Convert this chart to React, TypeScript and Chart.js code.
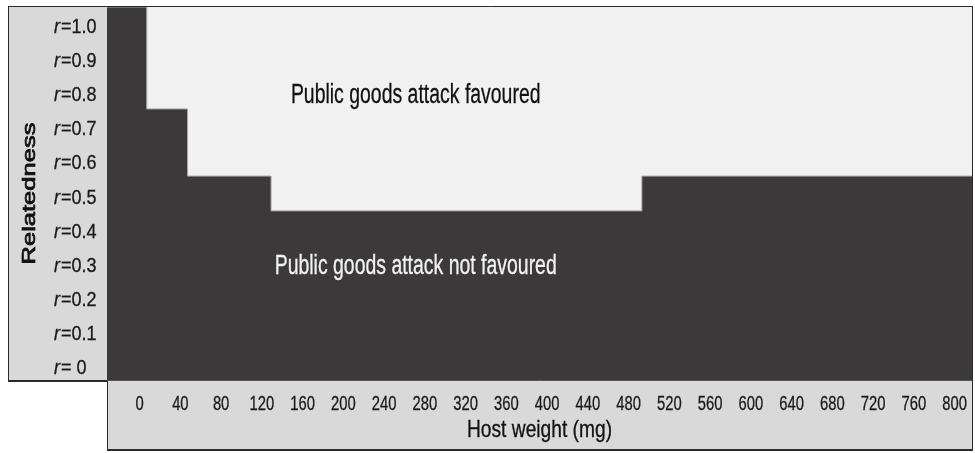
import React, { useEffect, useRef } from "react";
import { Chart, registerables } from "chart.js";

Chart.register(...registerables);

// ---- data ----
const hostWeightTicks = [0, 40, 80, 120, 160, 200, 240, 280, 320, 360, 400, 440, 480, 520, 560, 600, 640, 680, 720, 760, 800];
const relatednessTicks = [1.0, 0.9, 0.8, 0.7, 0.6, 0.5, 0.4, 0.3, 0.2, 0.1, 0];
const relatednessLabels = ["=1.0", "=0.9", "=0.8", "=0.7", "=0.6", "=0.5", "=0.4", "=0.3", "=0.2", "=0.1", "= 0"];
// threshold relatedness above which attack is favoured, as a step function of host weight
const boundaryWeights = [-32, 7, 47, 129, 493, 817];
const thresholdR = [1.056, 0.757, 0.56, 0.458, 0.56, 0.56];
const xRange = [-32, 817];
const yRange = [-0.038, 1.056];
const favouredLabel = "Public goods attack favoured";
const notFavouredLabel = "Public goods attack not favoured";
const xTitle = "Host weight (mg)";
const yTitle = "Relatedness";
// annotation anchors (data coordinates)
const favouredAnchor = { x: 271, y: 0.774 };
const notFavouredAnchor = { x: 271, y: 0.273 };

const FONT = '"Liberation Sans", Arial, sans-serif';

function drawText(
  ctx: CanvasRenderingContext2D,
  text: string,
  x: number,
  y: number,
  size: number,
  sx: number,
  align: CanvasTextAlign,
  color: string,
  style = "",
  stroke = 0
) {
  ctx.save();
  ctx.translate(x, y);
  ctx.scale(sx, 1);
  ctx.font = `${style} ${size}px ${FONT}`;
  ctx.textAlign = align;
  ctx.textBaseline = "alphabetic";
  ctx.fillStyle = color;
  ctx.fillText(text, 0, 0);
  if (stroke > 0) {
    ctx.strokeStyle = color;
    ctx.lineWidth = stroke;
    ctx.strokeText(text, 0, 0);
  }
  ctx.restore();
}

const panelsPlugin = {
  id: "panels",
  beforeDraw(chart: any) {
    const { ctx, chartArea: a } = chart;
    ctx.save();
    ctx.fillStyle = "#ffffff";
    ctx.fillRect(0, 0, chart.width, chart.height);
    ctx.fillStyle = "#d9d9d9";
    ctx.fillRect(8, a.top, a.left - 8, a.bottom - a.top + 1);
    ctx.fillRect(a.left, a.bottom, a.right - a.left, 451 - a.bottom);
    ctx.fillStyle = "#f1f1f1";
    ctx.fillRect(a.left, a.top, a.right - a.left, a.bottom - a.top);
    ctx.restore();
  },
  afterDraw(chart: any) {
    const { ctx, chartArea: a, scales } = chart;
    const xs = scales.x;
    const ys = scales.y;
    ctx.save();
    // borders
    ctx.strokeStyle = "#2a2a2a";
    ctx.lineWidth = 1;
    ctx.beginPath();
    ctx.moveTo(8, a.top - 0.5);
    ctx.lineTo(a.right + 0.5, a.top - 0.5);
    ctx.moveTo(8.5, a.top - 1);
    ctx.lineTo(8.5, a.bottom + 1);
    ctx.moveTo(a.right + 0.5, a.top - 1);
    ctx.lineTo(a.right + 0.5, 451);
    ctx.moveTo(a.left + 0.5, a.bottom);
    ctx.lineTo(a.left + 0.5, 451);
    ctx.stroke();
    ctx.lineWidth = 2;
    ctx.beginPath();
    ctx.moveTo(8, a.bottom + 1);
    ctx.lineTo(a.left, a.bottom + 1);
    ctx.moveTo(a.left, 450);
    ctx.lineTo(a.right + 1, 450);
    ctx.stroke();
    ctx.strokeStyle = "#555555";
    ctx.lineWidth = 1;
    ctx.beginPath();
    ctx.moveTo(a.left, a.bottom + 0.5);
    ctx.lineTo(a.right, a.bottom + 0.5);
    ctx.stroke();

    // y tick labels: italic r + rest
    relatednessTicks.forEach((v, i) => {
      const py = ys.getPixelForValue(v) + 7;
      ctx.save();
      ctx.font = `italic 20px ${FONT}`;
      const rw = ctx.measureText("r").width * 0.9;
      ctx.restore();
      drawText(ctx, "r", 54, py, 20, 0.9, "left", "#1a1a1a", "italic", 0.3);
      drawText(ctx, relatednessLabels[i], 54 + rw + 1, py, 20, 0.9, "left", "#1a1a1a", "", 0.3);
    });

    // x tick labels
    hostWeightTicks.forEach((v) => {
      drawText(ctx, String(v), xs.getPixelForValue(v), 410, 20, 0.74, "center", "#1a1a1a", "", 0.3);
    });

    // axis titles
    drawText(ctx, xTitle, (a.left + a.right) / 2, 437, 24, 0.8, "center", "#111111", "", 0.3);
    ctx.save();
    ctx.translate(35, (a.top + a.bottom) / 2);
    ctx.rotate(-Math.PI / 2);
    ctx.scale(1.42, 1);
    ctx.font = `18px ${FONT}`;
    ctx.textAlign = "center";
    ctx.textBaseline = "alphabetic";
    ctx.fillStyle = "#111111";
    ctx.fillText(yTitle, 0, 0);
    ctx.strokeStyle = "#111111";
    ctx.lineWidth = 0.7;
    ctx.strokeText(yTitle, 0, 0);
    ctx.restore();

    // region annotations
    drawText(ctx, favouredLabel, xs.getPixelForValue(favouredAnchor.x), ys.getPixelForValue(favouredAnchor.y), 27, 0.72, "center", "#111111", "", 0.3);
    drawText(ctx, notFavouredLabel, xs.getPixelForValue(notFavouredAnchor.x), ys.getPixelForValue(notFavouredAnchor.y), 27, 0.72, "center", "#f2f2f2", "", 0.3);
    ctx.restore();
  },
};

export default function App() {
  const ref = useRef<HTMLCanvasElement>(null);
  useEffect(() => {
    if (!ref.current) return;
    const chart = new Chart(ref.current, {
      type: "line",
      data: {
        datasets: [
          {
            data: boundaryWeights.map((x, i) => ({ x, y: thresholdR[i] })),
            stepped: true,
            fill: "start",
            backgroundColor: "#3b393a",
            borderColor: "#a6a6a6",
            borderWidth: 1,
            pointRadius: 0,
          },
        ],
      },
      options: {
        responsive: false,
        animation: false,
        layout: { padding: { left: 107, top: 7, right: 3, bottom: 73 } },
        scales: {
          x: { type: "linear", min: xRange[0], max: xRange[1], display: false },
          y: { type: "linear", min: yRange[0], max: yRange[1], display: false },
        },
        plugins: { legend: { display: false }, tooltip: { enabled: false } },
      },
      plugins: [panelsPlugin],
    } as any);
    return () => chart.destroy();
  }, []);
  return (
    <div style={{ position: "absolute", left: 0, top: 0, width: 975, height: 453 }}>
      <canvas ref={ref} width={975} height={453} style={{ display: "block" }} />
    </div>
  );
}
